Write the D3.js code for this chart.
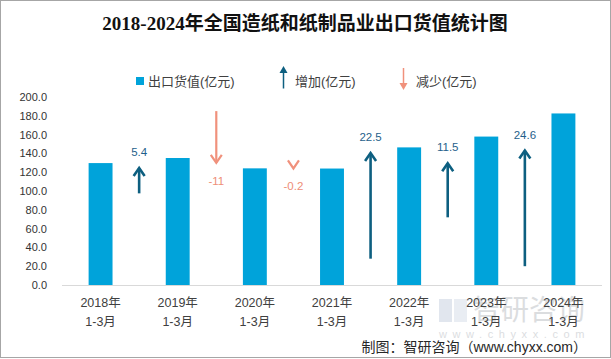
<!DOCTYPE html>
<html><head><meta charset="utf-8">
<script src="https://cdn.jsdelivr.net/npm/d3@7"></script>
<style>
html,body{margin:0;padding:0;background:#fff;}
svg{display:block;font-family:"Liberation Sans","Noto Sans CJK SC",sans-serif;}
</style></head>
<body><svg id="c" width="611" height="359"></svg>
<script>
// ---- data ----
const years = ["2018年","2019年","2020年","2021年","2022年","2023年","2024年"];
const periods = ["1-3月","1-3月","1-3月","1-3月","1-3月","1-3月","1-3月"];
const exportValue = [129.7, 135.1, 124.1, 123.9, 146.4, 157.9, 182.5];
const change = [5.4, -11, -0.2, 22.5, 11.5, 24.6];
const changeLabels = ["5.4","-11","-0.2","22.5","11.5","24.6"];
// arrow base on the hidden secondary axis (0-40)
const arrowBase = [19.5, 37, 25, 5.6, 14.4, 4.0];
const yTicks = [0,20,40,60,80,100,120,140,160,180,200];

const svg = d3.select("#c");
const W = 611, H = 359;
const c = {bar:"#00A3DA", up:"#0D5F80", down:"#F0917C", upText:"#1F5F8B", downText:"#EE8E78"};

svg.append("rect").attr("x",0.5).attr("y",0.5).attr("width",W-1).attr("height",H-2)
  .attr("fill","#fff").attr("stroke","#A6A6A6");

const x = d3.scaleBand().domain(d3.range(years.length)).range([62,602]).paddingInner(0.69).paddingOuter(0.345);
const y = d3.scaleLinear().domain([0,200]).range([285,97]);
const y2 = d3.scaleLinear().domain([0,40]).range([285,97]);

// title
svg.append("text").attr("x",305).attr("y",30).attr("text-anchor","middle")
  .attr("font-family","'Liberation Serif','Noto Sans CJK SC',serif").attr("font-weight","bold")
  .attr("font-size",19).attr("fill","#111").text("2018-2024年全国造纸和纸制品业出口货值统计图");

// y axis
const ya = svg.append("g").attr("transform","translate(47,0)")
  .call(d3.axisLeft(y).tickValues(yTicks).tickFormat(d3.format(".1f")).tickSize(0).tickPadding(0));
ya.select(".domain").remove();
ya.selectAll("text").attr("font-size",11).attr("fill","#333").attr("font-family","'Liberation Sans',sans-serif");

// x axis line
svg.append("line").attr("x1",62).attr("x2",602).attr("y1",285.5).attr("y2",285.5).attr("stroke","#D9D9D9");

// watermark (behind labels)
const wm = svg.append("g").attr("opacity",0.3);
wm.append("rect").attr("x",439).attr("y",299).attr("width",13).attr("height",23).attr("fill","#9FB0C8");
wm.append("rect").attr("x",454).attr("y",299).attr("width",13).attr("height",23).attr("fill","#B9C6D8");
wm.append("text").attr("x",473).attr("y",320).attr("font-size",28).attr("fill","#8A9098").text("智研咨询");
wm.append("text").attr("x",439).attr("y",338).attr("font-size",11).attr("letter-spacing",5.6).attr("fill","#8A9098").text("www.chyxx.com");

// bars
svg.selectAll("rect.bar").data(exportValue).enter().append("rect").attr("class","bar")
  .attr("x",(d,i)=>x(i)).attr("width",x.bandwidth())
  .attr("y",d=>y(d)).attr("height",d=>y(0)-y(d)).attr("fill",c.bar);

// x labels
const xl = svg.append("g");
years.forEach((t,i)=>{
  const cx = x(i)+x.bandwidth()/2;
  xl.append("text").attr("x",cx).attr("y",307).attr("text-anchor","middle").attr("font-size",12.5).attr("fill","#404040").text(t);
  xl.append("text").attr("x",cx).attr("y",326).attr("text-anchor","middle").attr("font-size",12.5).attr("fill","#404040").text(periods[i]);
});

// arrows
const step = x.step();
change.forEach((v,i)=>{
  const ax = x(i+1)+x.bandwidth()/2 - step/2;
  const y0 = y2(arrowBase[i]), y1 = y2(arrowBase[i]+v);
  const up = v>0;
  const col = up?c.up:c.down;
  const g = svg.append("g").attr("fill","none").attr("stroke",col).attr("stroke-width",up?2.6:2.2);
  if (Math.abs(y1-y0) > 3) g.append("line").attr("x1",ax).attr("x2",ax).attr("y1",y0).attr("y2",y1);
  const hd = up?1:-1;
  g.append("polyline").attr("points",`${ax-5.5},${y1+hd*8} ${ax},${y1} ${ax+5.5},${y1+hd*8}`);
  svg.append("text").attr("x",ax).attr("y",up? y1-12 : y1+22).attr("text-anchor","middle")
    .attr("font-size",11.5).attr("fill",up?c.upText:c.downText).text(changeLabels[i]);
});

// legend
const lg = svg.append("g").attr("font-size",13).attr("fill","#404040");
lg.append("rect").attr("x",136).attr("y",77).attr("width",8).attr("height",8).attr("fill",c.bar);
lg.append("text").attr("x",148).attr("y",86).text("出口货值(亿元)");
lg.append("line").attr("x1",283.5).attr("x2",283.5).attr("y1",71).attr("y2",88.5).attr("stroke",c.up).attr("stroke-width",1.5);
lg.append("path").attr("d","M279.5,73 L283.5,66 L287.5,73 Z").attr("fill",c.up);
lg.append("text").attr("x",295).attr("y",86).text("增加(亿元)");
lg.append("line").attr("x1",403.5).attr("x2",403.5).attr("y1",68).attr("y2",85).attr("stroke",c.down).attr("stroke-width",1.5);
lg.append("path").attr("d","M399.5,83 L403.5,90 L407.5,83 Z").attr("fill",c.down);
lg.append("text").attr("x",416).attr("y",86).text("减少(亿元)");

// credit
svg.append("text").attr("x",587).attr("y",352).attr("text-anchor","end").attr("font-size",14).attr("fill","#262626")
  .text("制图：智研咨询（www.chyxx.com）");
</script></body></html>
